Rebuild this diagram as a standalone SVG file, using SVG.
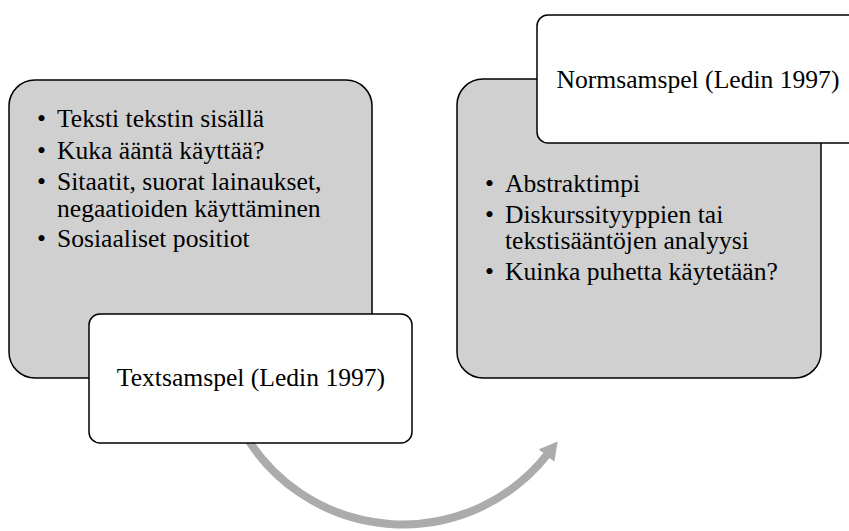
<svg xmlns="http://www.w3.org/2000/svg" width="849" height="531" viewBox="0 0 849 531">
<style>
.gray{fill:#d0d0d0;stroke:#000;stroke-width:1.5}
.white{fill:#fff;stroke:#000;stroke-width:1.5}
text{font-family:"Liberation Serif","Times New Roman",serif;font-size:25.6px;fill:#000}
.c{text-anchor:middle}
.arc{fill:none;stroke:#ababab;stroke-width:8}
</style>
<defs>
<marker id="head" markerUnits="userSpaceOnUse" viewBox="0 0 18 20" markerWidth="18" markerHeight="20" refX="1" refY="10" orient="auto">
<path d="M0,0 L18,10 L0,20 z" fill="#ababab"/>
</marker>
</defs>
<rect width="849" height="531" fill="#fff"/>
<g id="connectors">
<path class="arc" d="M243.7,432.5 A184,184 0 0 0 547.1,454.8" marker-end="url(#head)"/>
</g>
<g id="left-content">
<rect class="gray" x="9" y="80" width="363" height="298" rx="26" ry="26"/>
<text x="37" y="127">•</text><text x="57" y="127">Teksti tekstin sisällä</text>
<text x="37" y="159">•</text><text x="57" y="159">Kuka ääntä käyttää?</text>
<text x="37" y="190">•</text><text x="57" y="190">Sitaatit, suorat lainaukset,</text>
<text x="57" y="217">negaatioiden käyttäminen</text>
<text x="37" y="247">•</text><text x="57" y="247">Sosiaaliset positiot</text>
</g>
<g id="textsamspel">
<rect class="white" x="89" y="314" width="323" height="129" rx="11" ry="11"/>
<text class="c" x="251" y="386">Textsamspel (Ledin 1997)</text>
</g>
<g id="right-content">
<rect class="gray" x="457" y="79" width="364" height="299" rx="26" ry="26"/>
<text x="485" y="192">•</text><text x="505" y="192">Abstraktimpi</text>
<text x="485" y="223">•</text><text x="505" y="223">Diskurssityyppien tai</text>
<text x="505" y="249">tekstisääntöjen analyysi</text>
<text x="485" y="280">•</text><text x="505" y="280">Kuinka puhetta käytetään?</text>
</g>
<g id="normsamspel">
<rect class="white" x="537" y="15" width="322" height="128" rx="11" ry="11"/>
<text class="c" x="698" y="88">Normsamspel (Ledin 1997)</text>
</g>
</svg>
